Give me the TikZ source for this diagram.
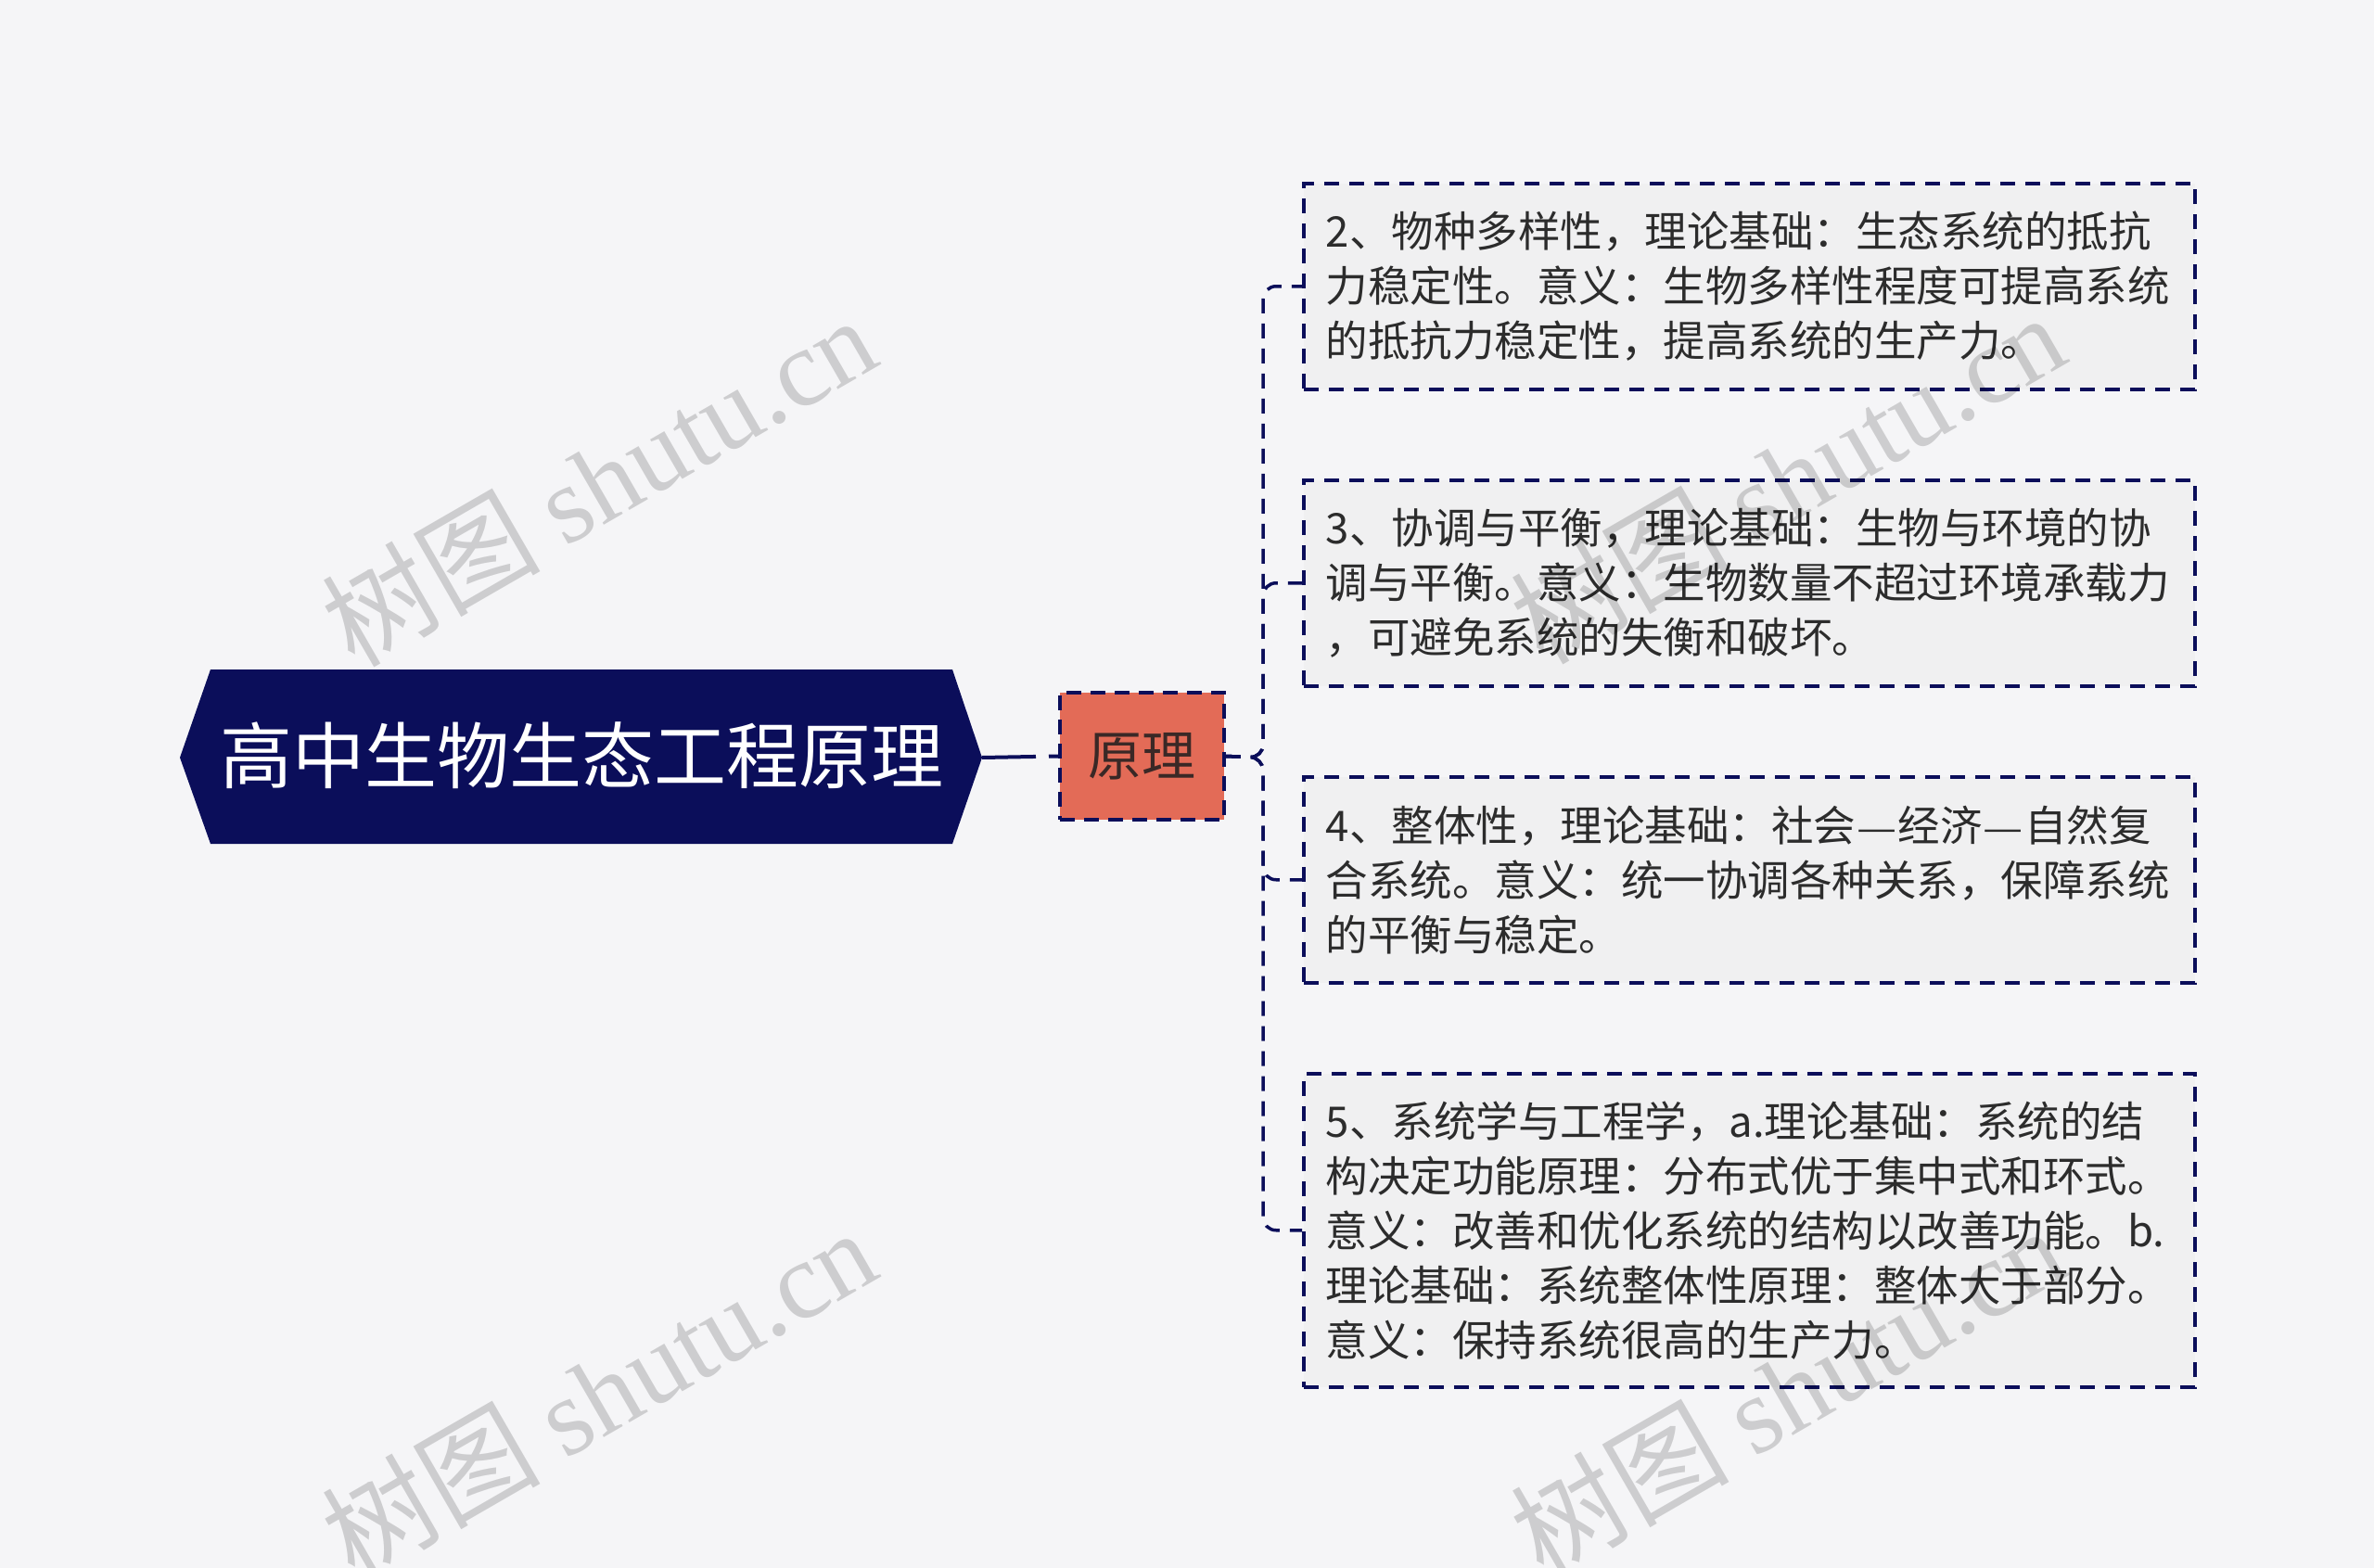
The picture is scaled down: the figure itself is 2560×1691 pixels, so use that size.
\documentclass[tikz,border=0pt]{standalone}
\usepackage{fontspec}
\setmainfont{Noto Sans CJK SC}
\newfontfamily\wmlatin{Liberation Serif}
\definecolor{bg}{HTML}{F5F5F7}
\definecolor{navy}{HTML}{0B0E5A}
\definecolor{coral}{HTML}{E36B57}
\definecolor{boxfill}{HTML}{F0F0F1}
\definecolor{txt}{HTML}{2C2C2C}
\definecolor{yltxt}{HTML}{3A2826}
\newcommand{\fwdash}{\makebox[1em][c]{\resizebox{0.95em}{0.5ex}{—}}}
\begin{document}
\begin{tikzpicture}[x=1pt,y=-1pt,
  leaf/.style={draw=navy, line width=3.5pt, dash pattern=on 16pt off 11pt, fill=boxfill,
    anchor=north west, inner xsep=24pt, inner ysep=0pt, align=left, text width=913pt,
    minimum width=961pt, text=txt, font=\fontsize{45.5}{59}\selectfont},
  link/.style={draw=navy, line width=3.5pt, dash pattern=on 16pt off 11pt, rounded corners=14pt},
  wm/.style={rotate=30, text=black, opacity=0.16, font=\fontsize{118}{130}\selectfont}]
\useasboundingbox (0,0) rectangle (2560,1691);
\fill[bg] (0,0) rectangle (2560,1691);

% main node
\coordinate (mainL) at (194,817);
\coordinate (mainR) at (1059,817);
\fill[navy] (mainL) -- (227,722) -- (1027,722) -- (mainR) -- (1027,910) -- (227,910) -- cycle;
\node[text=white, font=\fontsize{78}{94}\selectfont] (main) at (627,815) {高中生物生态工程原理};

% sub node
\node[draw=navy, line width=3.5pt, dash pattern=on 16pt off 10pt, fill=coral,
  minimum width=177pt, minimum height=137pt, inner sep=0pt,
  text=yltxt, font=\fontsize{58}{70}\selectfont] (yl) at (1231.5,815.5) {原理};

\draw[navy, line width=4pt, dash pattern=on 58pt off 14pt on 30pt off 10pt] (mainR) -- (yl.west);

% leaves
\node[leaf, minimum height=222pt] (b2) at (1404,196) {2、物种多样性，理论基础：生态系统的抵抗\\力稳定性。意义：生物多样性程度可提高系统\\的抵抗力稳定性，提高系统的生产力。};
\node[leaf, minimum height=222pt] (b3) at (1404,516) {3、协调与平衡，理论基础：生物与环境的协\\调与平衡。意义：生物数量不超过环境承载力\\，可避免系统的失衡和破坏。};
\node[leaf, minimum height=222pt] (b4) at (1404,836) {4、整体性，理论基础：社会\fwdash 经济\fwdash 自然复\\合系统。意义：统一协调各种关系，保障系统\\的平衡与稳定。};
\node[leaf, minimum height=338pt] (b5) at (1404,1156) {5、系统学与工程学，a.理论基础：系统的结\\构决定功能原理：分布式优于集中式和环式。\\意义：改善和优化系统的结构以改善功能。b.\\理论基础：系统整体性原理：整体大于部分。\\意义：保持系统很高的生产力。};

% connectors
\coordinate (trunk) at (1362,817);
\draw[link] (yl.east) -- (trunk) |- (b2.west);
\draw[link] (yl.east) -- (trunk) |- (b3.west);
\draw[link] (yl.east) -- (trunk) |- (b4.west);
\draw[link] (yl.east) -- (trunk) |- (b5.west);

% watermarks
\node[wm] (wm1) at (645,518) {树图 {\wmlatin shutu.cn}};
\node[wm] (wm2) at (645,1502) {树图 {\wmlatin shutu.cn}};
\node[wm] (wm3) at (1927,515) {树图 {\wmlatin shutu.cn}};
\node[wm] (wm4) at (1927,1500) {树图 {\wmlatin shutu.cn}};
\end{tikzpicture}
\end{document}
